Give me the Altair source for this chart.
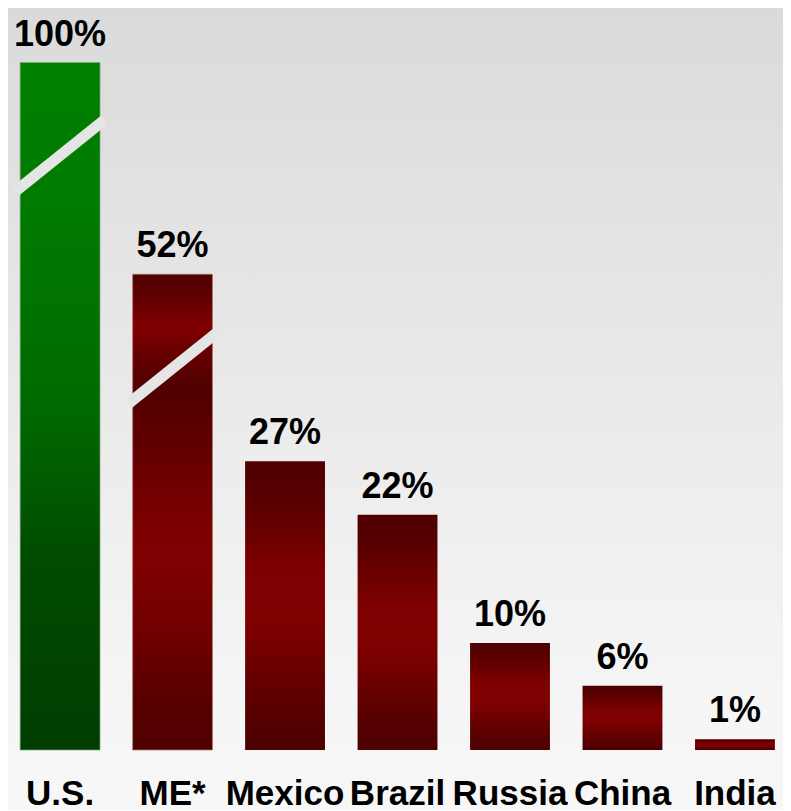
import altair as alt
import pandas as pd

# ---- data ----
categories = ["U.S.", "ME*", "Mexico", "Brazil", "Russia", "China", "India"]
values = [100, 52, 27, 22, 10, 6, 1]                  # labelled percentages
shown = [64.3, 44.5, 27, 22, 10, 6, 1]               # bar heights drawn (U.S. and ME* broken)
break_cats = ["U.S.", "ME*"]
break_left = [52.6, 32.7]                            # break stripe height at bar's left edge
break_right = [58.6, 38.7]                           # break stripe height at bar's right edge

df = pd.DataFrame({
    "cat": categories,
    "value": values,
    "shown": shown,
    "label": [f"{v}%" for v in values],
})
breaks = pd.DataFrame({"cat": break_cats, "yl": break_left, "yr": break_right})

W, H = 775, 742
FONT = "Liberation Sans"

xscale = alt.Scale(domain=categories, paddingInner=0.29, paddingOuter=0.09, align=0.6)
yscale = alt.Scale(domain=[0, 69.4], nice=False, zero=True)

xaxis = alt.Axis(
    title=None, domain=False, ticks=False, tickSize=0, grid=False,
    labelFont=FONT, labelFontSize=35, labelFontWeight="bold", labelColor="#000000",
    labelBaseline="alphabetic", labelPadding=54, labelOverlap=False,
    labelBound=False, labelFlush=False, labelAngle=0, zindex=2,
)

def grad(stops):
    return alt.LinearGradient(
        gradient="linear", x1=0, x2=0, y1=0, y2=1,
        stops=[alt.GradientStop(offset=o, color=c) for o, c in stops],
    )

bg = alt.Chart(df).mark_rect(
    color=grad([(0, "#dadada"), (0.55, "#ececec"), (0.85, "#f5f5f5"), (1, "#f7f7f7")])
).encode(x=alt.value(0), x2=alt.value(W), y=alt.value(0), y2=alt.value(H + 60))

X = alt.X("cat:N", scale=xscale, axis=xaxis, sort=categories)
Y = alt.Y("shown:Q", scale=yscale, axis=None)

base = alt.Chart(df).encode(x=X, y=Y)

us = base.transform_filter(alt.datum.cat == "U.S.").mark_bar(
    color=grad([(0, "#008000"), (0.2, "#007a00"), (0.49, "#006b00"),
                (0.72, "#004c00"), (1, "#003d00")]),
    stroke="#7aa87a", strokeWidth=1, strokeOpacity=0.7,
)

me = base.transform_filter(alt.datum.cat == "ME*").mark_bar(
    color=grad([(0, "#4e0000"), (0.05, "#620000"), (0.11, "#800000"),
                (0.17, "#660000"), (0.24, "#500000"), (0.36, "#620000"),
                (0.52, "#7a0000"), (0.6, "#800000"), (0.75, "#700000"),
                (0.9, "#580000"), (1, "#500000")]),
    stroke="#b07878", strokeWidth=1, strokeOpacity=0.7,
)

rest = base.transform_filter(
    alt.FieldOneOfPredicate(field="cat", oneOf=categories[2:])
).mark_bar(
    color=grad([(0, "#4e0000"), (0.1, "#540000"), (0.38, "#7e0000"),
                (0.55, "#800000"), (0.88, "#570000"), (1, "#4c0000")]),
)

brk = alt.Chart(breaks).mark_rule(
    color="#e5e5e5", strokeWidth=11, strokeCap="square"
).encode(
    x=alt.X("cat:N", scale=xscale, axis=xaxis, sort=categories, bandPosition=0),
    x2=alt.X2("cat", bandPosition=1),
    y=alt.Y("yl:Q", scale=yscale, axis=None),
    y2=alt.Y2("yr"),
)

labels = base.mark_text(
    font=FONT, fontSize=36, fontWeight="bold", color="#000000",
    baseline="alphabetic", align="center", dy=-17,
).encode(text="label:N")

chart = alt.layer(bg, us, me, rest, brk, labels).properties(
    width=W, height=H,
    autosize=alt.AutoSizeParams(type="none"),
    padding={"left": 0, "top": 0, "right": 0, "bottom": 60},
    background="#f7f7f7",
).configure_view(stroke="transparent")

chart.save("out.html", embed_options={"renderer": "svg", "actions": False})
